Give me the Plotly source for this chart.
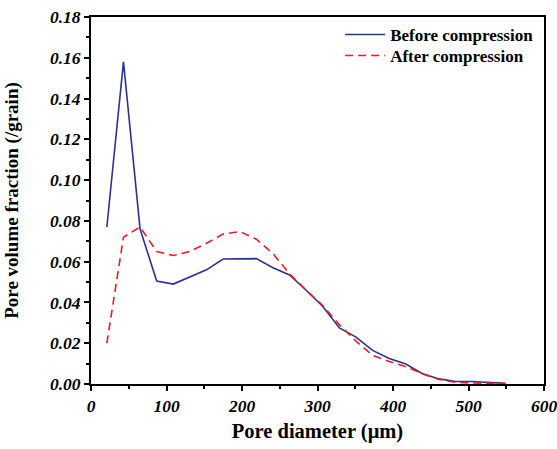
import plotly.graph_objects as go

diameter = [21, 43, 65, 87, 109, 131, 153, 175, 197, 219, 241, 263, 285, 307, 329,
            351, 373, 395, 417, 439, 461, 483, 505, 527, 549]
before = [0.077, 0.158, 0.076, 0.0505, 0.049, 0.0525, 0.056, 0.0613, 0.0615, 0.0615,
          0.057, 0.0535, 0.046, 0.038, 0.0275, 0.023, 0.0165, 0.0125, 0.0098, 0.005,
          0.0025, 0.0012, 0.0012, 0.0008, 0.0003]
after = [0.020, 0.072, 0.077, 0.065, 0.063, 0.065, 0.069, 0.0735, 0.0748, 0.071,
         0.064, 0.054, 0.046, 0.0385, 0.029, 0.021, 0.014, 0.011, 0.0085, 0.005,
         0.0022, 0.0008, 0.0005, 0.0003, 0.0002]

fig = go.Figure()
fig.add_trace(go.Scatter(x=diameter, y=before, mode="lines", name="Before compression",
                         line=dict(color="#2e3192", width=1.6), legend="legend"))
fig.add_trace(go.Scatter(x=diameter, y=after, mode="lines", name="After compression",
                         line=dict(color="#ed1c24", width=1.6, dash="8px,5px"), legend="legend2"))

serif = "Liberation Serif"
axis_common = dict(showline=True, linecolor="black", linewidth=2, mirror=True,
                   ticks="outside", ticklen=5, tickwidth=2, tickcolor="black",
                   showgrid=False, zeroline=False, automargin=False,
                   ticklabeloverflow="allow",
                   tickfont=dict(family=serif, size=17.5, color="black", weight="bold", style="italic"))

leg_font = dict(family=serif, size=17, color="black", weight="bold")
fig.update_layout(
    width=557, height=449,
    margin=dict(l=91, r=13, t=17, b=65),
    paper_bgcolor="white", plot_bgcolor="white",
    font=dict(family=serif, color="black"),
    legend=dict(x=0.55, y=0.951, xanchor="left", yanchor="middle",
                bgcolor="rgba(0,0,0,0)", font=leg_font, itemwidth=40),
    legend2=dict(x=0.55, y=0.894, xanchor="left", yanchor="middle",
                 bgcolor="rgba(0,0,0,0)", font=leg_font, itemwidth=40),
    showlegend=True,
)
fig.update_xaxes(range=[0, 600], tickvals=[0, 100, 200, 300, 400, 500, 600],
                 ticktext=["0", "100", "200", "300", "400", "500", "600"],
                 minor=dict(ticks="outside", ticklen=3, tickwidth=2, tickcolor="black", dtick=50),
                 title=dict(text="Pore diameter (μm)", standoff=9,
                            font=dict(family=serif, size=20.5, color="black", weight="bold")),
                 **axis_common)
yt = [0, 0.02, 0.04, 0.06, 0.08, 0.10, 0.12, 0.14, 0.16, 0.18]
fig.update_yaxes(range=[0, 0.18], tickvals=yt, ticktext=[f"{v:.2f}" for v in yt],
                 minor=dict(ticks="outside", ticklen=3, tickwidth=2, tickcolor="black", dtick=0.01),
                 title=dict(text="Pore volume fraction (/grain)", standoff=26,
                            font=dict(family=serif, size=19, color="black", weight="bold")),
                 **axis_common)

fig.write_html("out.html", config={"displayModeBar": False},
               post_script="document.body.style.margin='0px';document.body.style.overflow='hidden';")
